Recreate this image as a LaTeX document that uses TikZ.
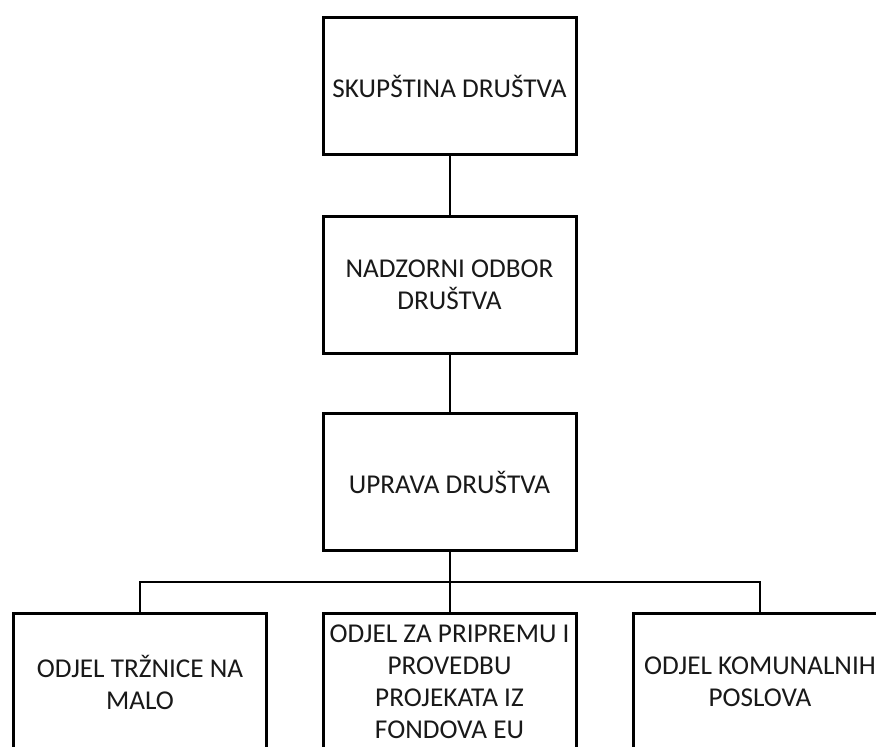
\documentclass[tikz,border=0pt]{standalone}
\usepackage{fontspec}
\setmainfont{Carlito}
\begin{document}
\begin{tikzpicture}[x=1pt,y=1pt,
  orgbox/.style={draw=black, line width=3pt, fill=white, minimum width=253pt, minimum height=137pt,
    inner sep=0pt, align=center, text=black!90, font=\fontsize{27.2}{32}\selectfont},
  link/.style={draw=black, line width=2pt}]
\useasboundingbox (0,0) rectangle (876,-747);
\clip (0,0) rectangle (876,-747);
\node[orgbox] (b1) at (449.5,-86) {SKUPŠTINA DRUŠTVA};
\node[orgbox] (b2) at (449.5,-285) {NADZORNI ODBOR\\DRUŠTVA};
\node[orgbox] (b3) at (449.5,-482) {UPRAVA DRUŠTVA};
\node[orgbox] (b4) at (140,-682) {ODJEL TRŽNICE NA\\MALO};
\node[orgbox] (b5) at (449.5,-682) {ODJEL ZA PRIPREMU I\\PROVEDBU\\PROJEKATA IZ\\FONDOVA EU};
\node[orgbox] (b6) at (760,-682) {ODJEL KOMUNALNIH\\POSLOVA};
\coordinate (bus) at (449.5,-582);
\draw[link] (b1) -- (b2);
\draw[link] (b2) -- (b3);
\draw[link] (b3) -- (b5);
\draw[link] (b4.north) |- (bus) -| (b6.north);
\end{tikzpicture}
\end{document}
